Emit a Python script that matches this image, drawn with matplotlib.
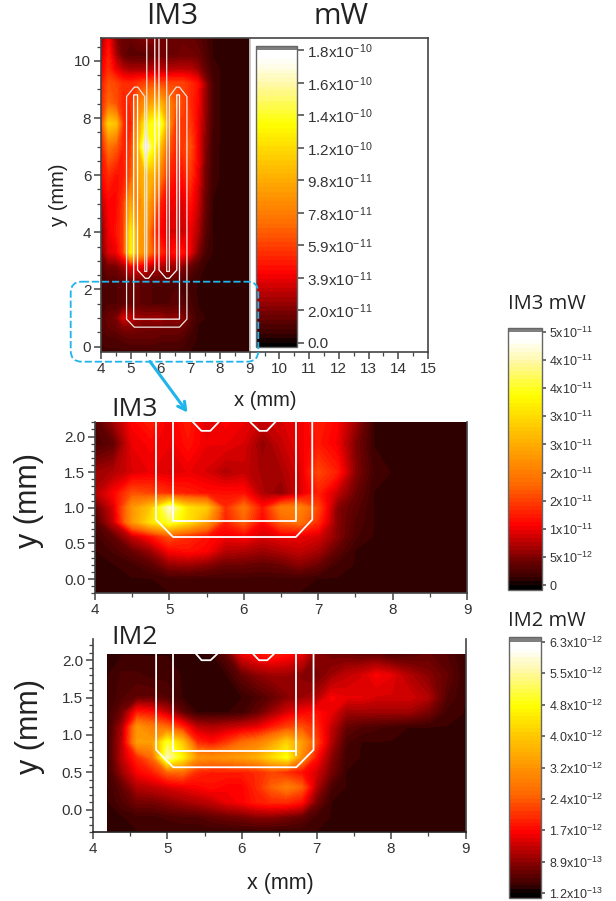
import numpy as np
import matplotlib
matplotlib.use("Agg")
import matplotlib.pyplot as plt
from matplotlib.colors import LinearSegmentedColormap
from matplotlib.patches import FancyBboxPatch
from matplotlib.ticker import MultipleLocator

plt.rcParams['font.family'] = ['Liberation Sans', 'DejaVu Sans']
plt.rcParams['mathtext.default'] = 'regular'

W, H = 616, 901

# ---------- data: percent of each colour scale ----------
top_x = [4.0,4.25,4.5,4.75,5.0,5.25,5.5,5.75,6.0,6.25,6.5,6.75,7.0,7.25,7.5,7.75,8.0,9.0]
top_y = [10.8,10.2,9.7,9.2,8.5,7.8,7.0,6.0,5.0,4.0,3.3,2.8,2.2,1.5,1.0,0.7,0.3,-0.2]
top_z = [
 [14,24,12, 8, 8,10,12,12,10, 9, 9, 9, 8, 7, 5, 3, 3, 3],
 [18,28,15, 8, 7, 7, 7, 9,10, 9, 9,10,10, 9, 6, 3, 3, 3],
 [22,30,22,17,15,15,15,17,17,16,17,17,17,14, 8, 4, 3, 3],
 [26,36,34,30,30,32,34,36,34,34,34,34,30,26,14, 5, 3, 3],
 [28,40,36,28,30,42,50,54,58,46,38,34,30,24,14, 5, 3, 3],
 [32,64,60,30,27,50,72,76,80,52,32,32,32,23,13, 5, 3, 3],
 [26,42,38,28,32,56,97,75,60,38,30,32,36,24,12, 4, 3, 3],
 [24,30,26,27,36,52,58,56,44,30,26,26,32,22,10, 4, 3, 3],
 [16,24,24,32,54,44,56,44,28,23,22,20,26,19, 9, 3, 3, 3],
 [10,22,26,32,70,50,52,32,24,20,20,18,22,16, 7, 3, 3, 3],
 [10,20,22,32,72,52,50,36,30,24,26,26,22,12, 5, 3, 3, 3],
 [ 6,10,10,14,22,22,20,16,16,14,14,12, 8, 5, 3, 3, 3, 3],
 [ 5, 6, 6, 7, 8, 8, 7, 6, 6, 6, 6, 5, 4, 3, 3, 3, 3, 3],
 [ 5, 6, 6, 7, 8, 8, 7, 6, 6, 6, 7, 7, 5, 3, 3, 3, 3, 3],
 [ 6, 9,10,20,18,14,13,14,14,12,13,12, 7, 4, 3, 3, 3, 3],
 [ 6, 8, 9,12,12,11,10,10,10,10,10, 9, 6, 3, 3, 3, 3, 3],
 [ 5, 6, 6, 7, 8, 8, 8, 8, 7, 7, 7, 6, 4, 3, 3, 3, 3, 3],
 [ 4, 4, 4, 4, 4, 4, 4, 4, 4, 4, 4, 4, 3, 3, 3, 3, 3, 3],
]

mid_x = [4.0,4.25,4.5,4.75,5.0,5.25,5.5,5.75,6.0,6.25,6.5,6.75,7.0,7.25,7.5,7.75,8.0,9.0]
mid_y = [2.2,1.9,1.5,1.2,1.0,0.8,0.6,0.4,0.2,0.0,-0.2]
mid_z = [
 [ 6,14,24,28,22,28,20,24,22,18,20,22,28,24,14, 3, 3, 3],
 [ 5, 8,22,24,22,26,22,22,20,13,18,22,27,23,11, 3, 3, 3],
 [14,16,20,22,20,22,20,16,18,15,15,20,34,28,12, 4, 3, 3],
 [16,24,36,34,30,28,26,26,26,16,12,20,28,18, 9, 3, 3, 3],
 [ 8,20,50,62,92,68,62,30,42,26,44,46,34,12, 7, 3, 3, 3],
 [ 5,18,50,68,80,68,52,28,38,24,38,42,30,12, 6, 3, 3, 3],
 [ 4, 8,18,26,36,30,26,22,24,20,22,22,20,12, 5, 3, 3, 3],
 [ 3, 5, 9,14,24,26,24,17,16,14,16,18,15, 8, 3, 3, 3, 3],
 [ 3, 3, 4, 7,13,14,12, 9, 9, 8, 9,12, 9, 4, 3, 3, 3, 3],
 [ 3, 3, 3, 3, 4, 4, 4, 4, 4, 4, 4, 4, 3, 3, 3, 3, 3, 3],
 [ 3, 3, 3, 3, 3, 3, 3, 3, 3, 3, 3, 3, 3, 3, 3, 3, 3, 3],
]

low_x = [4.2,4.4,4.6,4.8,5.0,5.2,5.4,5.6,5.8,6.0,6.2,6.4,6.6,6.8,7.0,7.2,7.4,7.6,7.8,8.0,8.25,8.5,8.75,9.0]
low_y = [2.08,1.8,1.5,1.3,1.1,0.9,0.7,0.5,0.3,0.1,-0.1,-0.3]
low_z = [
 [3, 3, 3, 3, 3, 3, 3, 3, 8,22,26,28,26,22,12,10, 9, 8, 8, 5, 6, 8, 6, 3],
 [3, 5, 5, 4, 4, 3, 3, 3, 3, 8,12,14,14,12,10,14,18,20,24,22,16,12, 8, 3],
 [3, 6, 8, 8, 6, 3, 3, 3, 3, 3, 5, 8,12,14,16,24,22,22,20,20,20,16, 6, 3],
 [3,10,28,26,18, 8, 3, 3, 3, 4, 8,14,20,24,26,22,14,14,14,14,14,10, 4, 3],
 [3,16,50,44,40,30,18,16,18,20,22,28,34,36,30,18, 8, 6, 5, 4, 3, 3, 3, 3],
 [3,18,52,52,78,62,30,26,32,40,44,52,64,52,34,16, 5, 3, 3, 3, 3, 3, 3, 3],
 [3,18,30,40,90,72,50,48,50,52,56,66,75,48,26,12, 4, 3, 3, 3, 3, 3, 3, 3],
 [3,14,24,28,38,40,30,28,28,28,30,34,30,26,20,10, 3, 3, 3, 3, 3, 3, 3, 3],
 [3, 8,16,18,20,22,24,26,24,24,30,38,44,38,16, 5, 3, 3, 3, 3, 3, 3, 3, 3],
 [3, 6,10,10,12,14,16,18,22,24,28,30,30,26,10, 3, 3, 3, 3, 3, 3, 3, 3, 3],
 [3, 3, 4, 4, 5, 6, 6, 8, 9,10,12,12,10, 8, 4, 3, 3, 3, 3, 3, 3, 3, 3, 3],
 [3, 3, 3, 3, 3, 3, 3, 3, 3, 3, 3, 3, 3, 3, 3, 3, 3, 3, 3, 3, 3, 3, 3, 3],
]

# colour-scale ranges (mW) and tick labels
top_range = (0.0, 1.8e-10)
mid_range = (0.0, 5.0e-11)
low_range = (1.2e-13, 6.3e-12)
top_ticks = ['0.0', '2.0x10$^{-11}$', '3.9x10$^{-11}$', '5.9x10$^{-11}$', '7.8x10$^{-11}$',
             '9.8x10$^{-11}$', '1.2x10$^{-10}$', '1.4x10$^{-10}$', '1.6x10$^{-10}$', '1.8x10$^{-10}$']
mid_ticks = ['0', '5x10$^{-12}$', '1x10$^{-11}$', '2x10$^{-11}$', '2x10$^{-11}$',
             '3x10$^{-11}$', '3x10$^{-11}$', '4x10$^{-11}$', '4x10$^{-11}$', '5x10$^{-11}$']
low_ticks = ['1.2x10$^{-13}$', '8.9x10$^{-13}$', '1.7x10$^{-12}$', '2.4x10$^{-12}$', '3.2x10$^{-12}$',
             '4.0x10$^{-12}$', '4.8x10$^{-12}$', '5.5x10$^{-12}$', '6.3x10$^{-12}$']

# device outlines (mm)
top_inner = ([5.54,5.54,5.47,5.47,5.24,5.12,4.86,4.86,5.12,6.64,6.89,6.89,6.64,6.53,6.30,6.30,6.21,6.21],
             [10.8,2.63,2.63,8.75,9.08,9.08,8.75,0.96,0.68,0.68,0.96,8.75,9.08,9.08,8.75,2.63,2.63,10.8])
top_outer = ([5.81,5.81,5.60,5.49,5.23,5.23,5.10,5.10,6.64,6.64,6.55,6.55,6.30,6.19,5.95,5.95],
             [10.8,2.68,2.39,2.39,2.68,8.81,8.81,0.96,0.96,8.81,8.81,2.68,2.39,2.39,2.68,10.8])
mid_out = ([4.82,4.82,5.05,6.70,6.92,6.92], [2.2,0.835,0.59,0.59,0.835,2.2])
mid_in = ([5.05,5.05,6.70,6.70], [2.2,0.81,0.81,2.2])
mid_f1 = ([5.32,5.43,5.55,5.66], [2.2,2.08,2.08,2.2])
mid_f2 = ([6.09,6.21,6.31,6.42], [2.2,2.08,2.08,2.2])
low_out = ([4.85,4.85,5.08,6.73,6.96,6.96], [2.085,0.80,0.567,0.567,0.80,2.085])
low_in = ([5.08,5.08,6.73,6.73], [2.085,0.786,0.786,2.085])
low_in_end = ([6.73,6.73], [0.786,0.73])
low_f1 = ([5.385,5.46,5.58,5.67], [2.085,2.0,2.0,2.085])
low_f2 = ([6.15,6.23,6.34,6.43], [2.085,2.0,2.0,2.085])

# ---------- styling ----------
cmap = LinearSegmentedColormap.from_list('hot2', [
    (0.00, '#0a0000'), (0.03, '#380000'), (0.11, '#7c0000'), (0.24, '#ff0000'),
    (0.40, '#ff6a00'), (0.55, '#ffa800'), (0.75, '#ffff00'), (0.88, '#fff8a0'),
    (0.97, '#ffffff'), (1.00, '#ffffff')], N=256).with_extremes(over='#7f7f7f', under='#000000')
INK = '#333333'
SPINE = '#444444'

fig = plt.figure(figsize=(W/100, H/100), dpi=100, facecolor='white')

def axpx(l, t, r, b, **kw):
    return fig.add_axes([l/W, 1-b/H, (r-l)/W, (b-t)/H], **kw)

def style(ax, xminor, yminor, size=11):
    ax.xaxis.set_minor_locator(MultipleLocator(xminor))
    ax.yaxis.set_minor_locator(MultipleLocator(yminor))
    ax.tick_params(which='major', length=5, width=1.1, color=SPINE, labelcolor=INK, labelsize=size, pad=2)
    ax.tick_params(which='minor', length=3, width=0.9, color=SPINE)
    for s in ax.spines.values():
        s.set_color(SPINE); s.set_linewidth(1.2)

def heat(ax, x, y, z, rng):
    vals = rng[0] + np.array(z, float)/100*(rng[1]-rng[0])
    lv = np.linspace(rng[0], rng[1], 65)
    return ax.contourf(x, y, vals, levels=lv, cmap=cmap, extend='both')

def cbar(cs, l, t, r, b, rng, labels, size, ext, tlen):
    cax = axpx(l, t, r, b)
    cb = fig.colorbar(cs, cax=cax, extend='both', extendrect=True, extendfrac=ext, drawedges=False)
    cb.set_ticks(np.linspace(rng[0], rng[1], len(labels)))
    cb.set_ticklabels(labels)
    cb.minorticks_off()
    cb.outline.set_edgecolor('#666666'); cb.outline.set_linewidth(1.0)
    cax.tick_params(length=tlen, width=1.1, color=SPINE, labelcolor=INK, labelsize=size, pad=2.5)

# ---------- top panel ----------
a1 = axpx(101, 38, 428, 352)
cs1 = heat(a1, top_x, top_y, top_z, top_range)
a1.set_xlim(4, 15); a1.set_ylim(-0.19, 10.8)
a1.set_xticks(range(4, 16)); a1.set_yticks(range(0, 11, 2))
style(a1, 0.5, 0.5)
a1.axvline(9, color='#c8c8c8', lw=1.3)
a1.plot(*top_inner, color='#f0e6e0', lw=0.9)
a1.plot(*top_outer, color='white', lw=0.9)
cbar(cs1, 256, 46, 297, 347, top_range, top_ticks, 11, 4.3/292.7, 5)

# ---------- middle panel ----------
a2 = axpx(95, 422.3, 467, 593.3)
cs2 = heat(a2, mid_x, mid_y, mid_z, mid_range)
a2.set_xlim(4, 9); a2.set_ylim(-0.2, 2.2)
a2.set_xticks(range(4, 10)); a2.set_yticks([0, 0.5, 1, 1.5, 2])
a2.set_yticklabels(['0.0', '0.5', '1.0', '1.5', '2.0'])
style(a2, 0.5, 0.1)
a2.spines['top'].set_visible(False)
for p in (mid_out, mid_in, mid_f1, mid_f2):
    a2.plot(*p, color='white', lw=1.3)
cbar(cs2, 507.5, 327.5, 541.5, 589.5, mid_range, mid_ticks, 9, 4.3/253.3, 3)

# ---------- lower panel ----------
a3 = axpx(92.7, 639.3, 465.7, 832)
cs3 = heat(a3, low_x, low_y, low_z, low_range)
a3.set_xlim(4, 9); a3.set_ylim(-0.30, 2.28)
a3.set_xticks(range(4, 10)); a3.set_yticks([0, 0.5, 1, 1.5, 2])
a3.set_yticklabels(['0.0', '0.5', '1.0', '1.5', '2.0'])
style(a3, 0.5, 0.1)
a3.spines['top'].set_visible(False)
a3.spines['bottom'].set_color('#222222')
for p in (low_out, low_in, low_in_end, low_f1, low_f2):
    a3.plot(*p, color='white', lw=1.3)
cbar(cs3, 508.5, 637, 541, 898, low_range, low_ticks, 9, 4.7/251.6, 3)

# ---------- overlay: annotations and labels in picture pixels ----------
ov = fig.add_axes([0, 0, 1, 1], facecolor='none')
ov.set_xlim(0, W); ov.set_ylim(H, 0); ov.axis('off')

BLUE = '#1fb4ec'
ov.add_patch(FancyBboxPatch((79.7, 290.7), 169.6, 62, boxstyle='round,pad=9,rounding_size=11',
                            fc='none', ec=BLUE, lw=1.3, ls=(0, (4, 1.6))))
ov.annotate('', xy=(187.5, 412.5), xytext=(150, 361.5),
            arrowprops=dict(arrowstyle='->,head_length=0.55,head_width=0.3', color=BLUE, lw=2.2,
                            shrinkA=0, shrinkB=0))

SANS = ['Open Sans', 'DejaVu Sans']
def t(x, y, s, size, fam=SANS, rot=0, color='#222222'):
    ov.text(x, y, s, fontsize=size, family=fam, rotation=rot, ha='center', va='center', color=color)

t(172.5, 16, 'IM3', 21.5)
t(341, 16, 'mW', 21.5)
t(135, 410, 'IM3', 19)
t(135, 637, 'IM2', 19)
t(546.7, 304, 'IM3 mW', 14.5)
t(546.7, 621, 'IM2 mW', 14.5)

LIB = ['Liberation Sans', 'DejaVu Sans']
t(58, 195, 'y (mm)', 14.5, LIB, 90)
t(265, 401, 'x (mm)', 14.5, LIB)
t(29, 500, 'y (mm)', 22, LIB, 90)
t(30, 727, 'y (mm)', 22, LIB, 90)
t(280, 884, 'x (mm)', 15.5, LIB)

fig.savefig('out.png', dpi=100, facecolor='white')
